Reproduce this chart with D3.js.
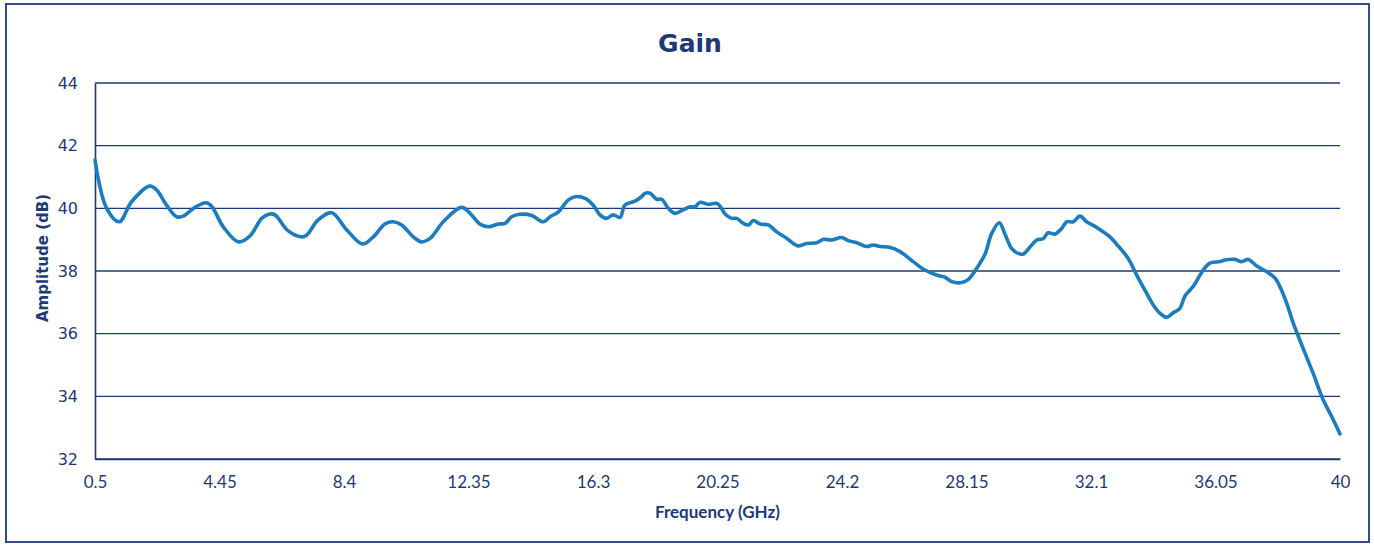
<!DOCTYPE html>
<html>
<head>
<meta charset="utf-8">
<script src="https://cdn.jsdelivr.net/npm/d3@7"></script>
<style>
html,body{margin:0;padding:0;background:#fff;}
svg{display:block;}
</style>
</head>
<body>
<svg id="chart" width="1374" height="546"></svg>
<script>
const freqGHz = [0.5,0.87,1.27,1.66,2.24,2.46,2.77,3.09,3.30,3.67,4.02,4.20,4.57,5.05,5.42,5.79,6.05,6.21,6.63,7.06,7.22,7.58,8.01,8.49,8.99,9.33,9.70,9.96,10.23,10.60,10.86,11.13,11.55,12.13,12.40,12.71,12.98,13.30,13.51,13.72,13.98,14.36,14.72,14.94,15.20,15.52,15.73,16.05,16.31,16.52,16.73,16.94,17.16,17.31,17.63,17.84,17.95,18.11,18.32,18.48,18.69,18.90,19.16,19.38,19.54,19.69,19.96,20.22,20.33,20.49,20.70,20.86,21.07,21.23,21.39,21.60,21.86,22.13,22.45,22.81,23.08,23.40,23.61,23.87,24.19,24.40,24.67,24.98,25.19,25.41,25.72,26.04,26.46,26.83,27.20,27.47,27.68,28.00,28.21,28.52,28.74,28.95,29.19,29.37,29.58,29.79,29.95,30.16,30.38,30.59,30.74,30.96,31.17,31.33,31.54,31.75,31.96,32.28,32.70,32.91,33.28,33.55,33.81,34.08,34.29,34.50,34.71,34.92,35.08,35.35,35.66,35.87,36.19,36.35,36.67,36.88,37.09,37.36,37.67,37.94,38.25,38.52,38.83,39.15,39.47,39.74,40.0];
const gainDb = [41.54,40.0,39.57,40.21,40.71,40.58,40.1,39.73,39.75,40.03,40.18,40.07,39.41,38.93,39.12,39.68,39.82,39.79,39.28,39.09,39.15,39.63,39.86,39.31,38.86,39.09,39.5,39.57,39.47,39.09,38.93,39.04,39.57,40.03,39.84,39.5,39.41,39.5,39.52,39.73,39.81,39.77,39.57,39.73,39.89,40.27,40.37,40.32,40.1,39.79,39.68,39.79,39.71,40.1,40.23,40.37,40.48,40.48,40.29,40.29,40.0,39.84,39.95,40.05,40.05,40.19,40.13,40.16,40.07,39.82,39.68,39.68,39.52,39.47,39.61,39.5,39.47,39.25,39.04,38.8,38.88,38.9,39.01,38.99,39.07,38.97,38.9,38.78,38.83,38.78,38.76,38.62,38.3,38.03,37.87,37.8,37.66,37.63,37.73,38.16,38.54,39.2,39.54,39.18,38.72,38.56,38.54,38.76,38.99,39.04,39.22,39.18,39.36,39.57,39.57,39.75,39.57,39.39,39.09,38.86,38.4,37.87,37.39,36.91,36.65,36.52,36.67,36.81,37.2,37.52,38.03,38.25,38.3,38.35,38.37,38.3,38.37,38.16,37.98,37.77,37.13,36.33,35.53,34.73,33.88,33.35,32.8];
const xTickLabels = ["0.5","4.45","8.4","12.35","16.3","20.25","24.2","28.15","32.1","36.05","40"];
const yTickLabels = [32,34,36,38,40,42,44];

(function(){
const navy = "#1c3a78";
const svg = d3.select("#chart");

svg.append("rect").attr("x",6).attr("y",4).attr("width",1363).attr("height",538)
  .attr("fill","#fff").attr("stroke",navy).attr("stroke-width",1.8);

const pL = 95, pR = 1340, pT = 83, pB = 459;
const x = d3.scaleLinear().domain([0.5,40]).range([pL,pR]);
const y = d3.scaleLinear().domain([32,44]).range([pB,pT]);

svg.append("g").selectAll("line").data(yTickLabels).join("line")
  .attr("x1",pL).attr("x2",pR)
  .attr("y1",d=>y(d)).attr("y2",d=>y(d))
  .attr("stroke",navy).attr("stroke-width",1.4);

const yAxis = d3.axisLeft(y).tickValues(yTickLabels).tickSize(0).tickPadding(17);
const gy = svg.append("g").attr("transform",`translate(${pL},0)`).call(yAxis);
gy.select(".domain").attr("stroke",navy).attr("stroke-width",1.6);
gy.selectAll("text").attr("fill",navy).attr("font-family","DejaVu Sans, Verdana, sans-serif").attr("font-size",16);

const xAxis = d3.axisBottom(x).tickValues(xTickLabels.map(Number)).tickFormat((d,i)=>xTickLabels[i]).tickSize(0).tickPadding(17);
const gx = svg.append("g").attr("transform",`translate(0,${pB})`).call(xAxis);
gx.select(".domain").attr("stroke",navy).attr("stroke-width",1.6);
gx.selectAll("text").attr("fill",navy).attr("font-family","Lato, 'Open Sans', sans-serif").attr("font-size",17);

const line = d3.line().x((d,i)=>x(freqGHz[i])).y(d=>y(d)).curve(d3.curveCatmullRom.alpha(0.5));
svg.append("path").datum(gainDb).attr("d",line)
  .attr("fill","none").attr("stroke","#1b7cc0").attr("stroke-width",3.6)
  .attr("stroke-linejoin","round").attr("stroke-linecap","round");

svg.append("text").attr("x",690).attr("y",52).attr("text-anchor","middle")
  .attr("fill",navy).attr("font-family","DejaVu Sans, Verdana, sans-serif")
  .attr("font-weight","bold").attr("font-size",25).text("Gain");

svg.append("text").attr("transform",`translate(48,258) rotate(-90)`)
  .attr("text-anchor","middle").attr("fill",navy)
  .attr("font-family","DejaVu Sans, Verdana, sans-serif").attr("font-weight","bold")
  .attr("font-size",15).text("Amplitude (dB)");
svg.append("text").attr("x",(pL+pR)/2).attr("y",518).attr("text-anchor","middle")
  .attr("fill",navy).attr("font-family","Lato, 'Open Sans', sans-serif").attr("font-weight","bold")
  .attr("font-size",17).text("Frequency (GHz)");
})();
</script>
</body>
</html>
